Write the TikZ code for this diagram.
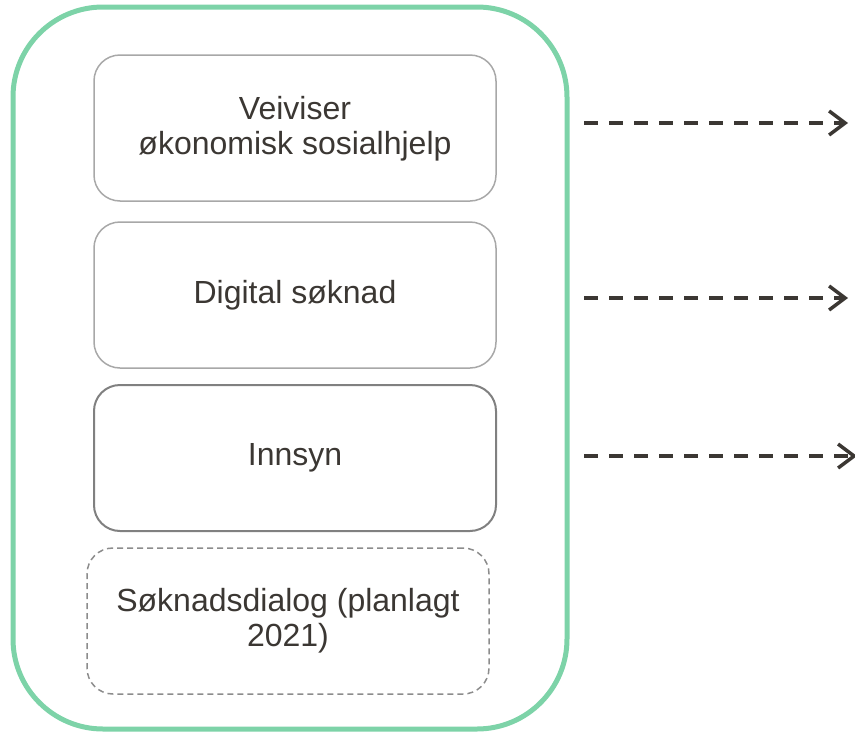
\documentclass[tikz,border=0pt]{standalone}
\usepackage{fontspec}
\setmainfont{Liberation Sans}
\usetikzlibrary{arrows.meta}
\definecolor{frame}{HTML}{7DD3A8}
\definecolor{ink}{HTML}{3B3733}
\definecolor{boxlight}{HTML}{A8A8A8}
\definecolor{boxdark}{HTML}{808080}
\definecolor{boxdash}{HTML}{8C8C8C}
\tikzset{
  pagebox/.style={draw=boxlight, line width=1.5pt, rounded corners=26pt,
    minimum width=402pt, minimum height=146pt, align=center, text=ink,
    font=\fontsize{32}{35}\selectfont, inner sep=0pt},
  flowarrow/.style={draw=ink, line width=3.5pt, dash pattern=on 14pt off 11pt,
    -{Straight Barb[length=16pt,width=24pt,line width=3.5pt]}},
}
\begin{document}
\begin{tikzpicture}[x=1pt,y=-1pt]
\useasboundingbox (0,0) rectangle (855,734);
% green container
\draw[frame, line width=5pt, rounded corners=90pt] (13,7) rectangle (567,729);
% service boxes
\node[pagebox] (veiviser) at (295,128) {};
\node[align=center, text=ink, font=\fontsize{32}{35}\selectfont, inner sep=0pt]
  (veivisertext) at (295,129) {Veiviser\\økonomisk sosialhjelp};
\node[pagebox] (soknad) at (295,295) {Digital søknad};
\node[pagebox, draw=boxdark, line width=2pt] (innsyn) at (295,458) {Innsyn};
\node[pagebox, draw=boxdash, dash pattern=on 6pt off 4pt] (dialog) at (288,621) {Søknadsdialog (planlagt\\2021)};
% outgoing flows
\coordinate (a1s) at (584,123); \coordinate (a1e) at (848,123);
\coordinate (a2s) at (584,298); \coordinate (a2e) at (848,298);
\coordinate (a3s) at (584,456); \coordinate (a3e) at (857,456);
\draw[flowarrow] (a1s) -- (a1e);
\draw[flowarrow] (a2s) -- (a2e);
\draw[flowarrow] (a3s) -- (a3e);
\end{tikzpicture}
\end{document}
